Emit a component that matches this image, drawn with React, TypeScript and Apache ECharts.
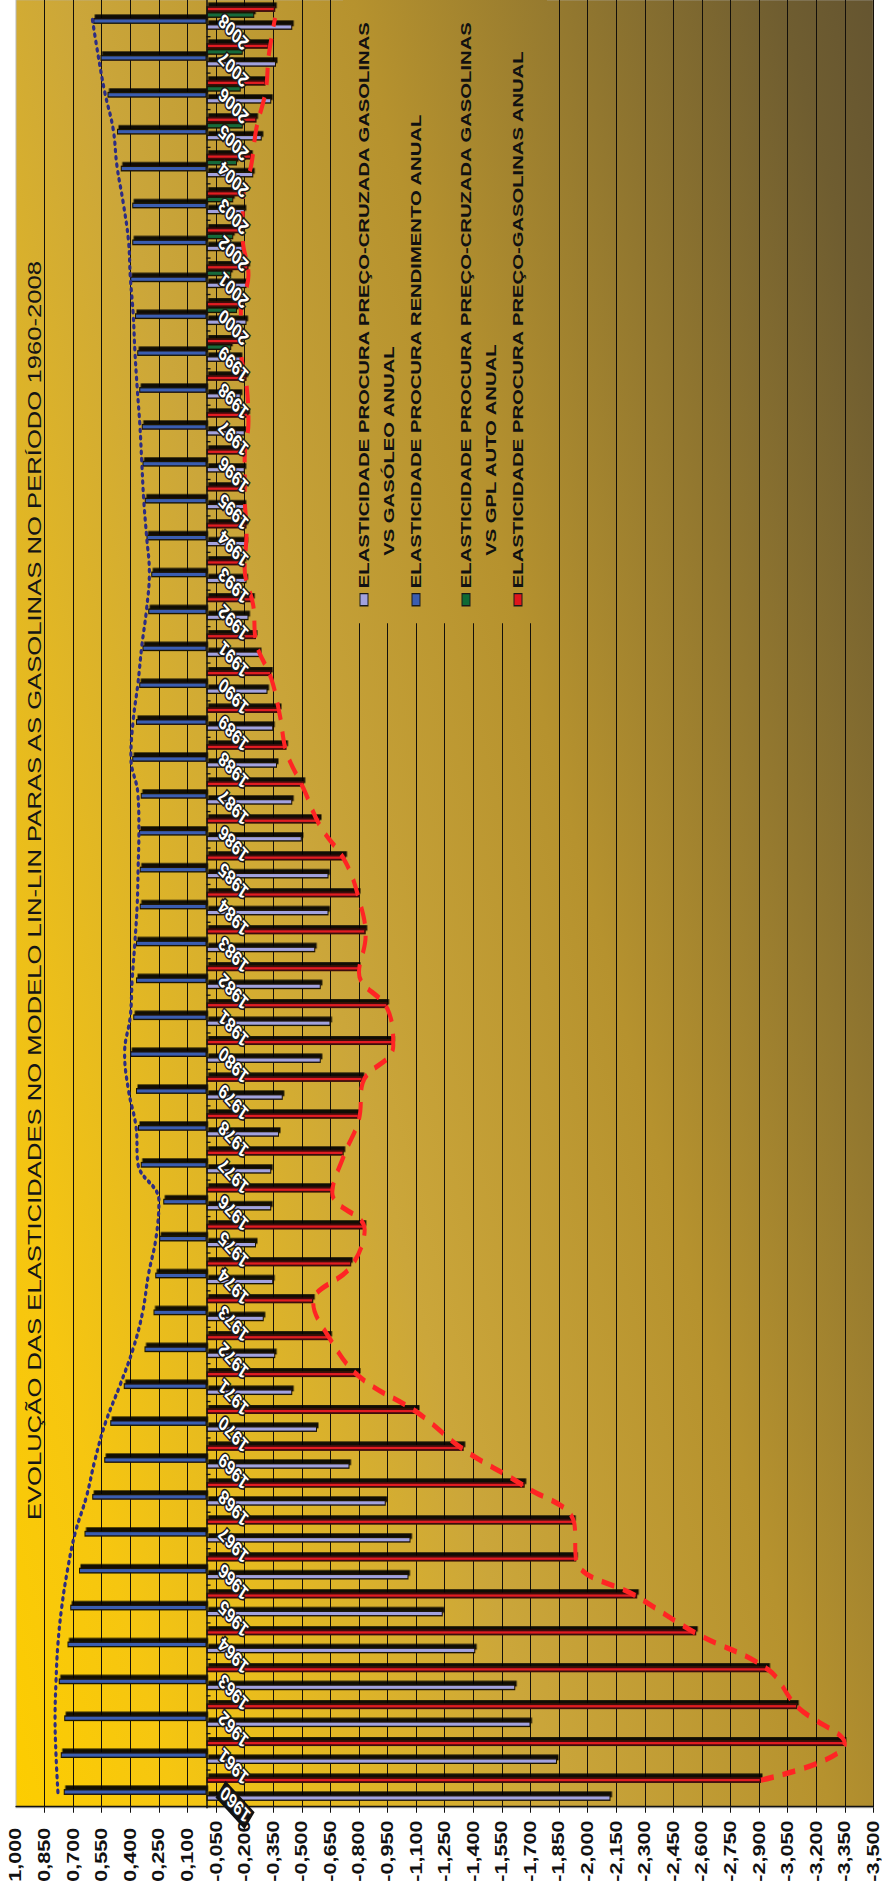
import React, { useEffect, useRef } from 'react';
import * as echarts from 'echarts';

// Years on the category axis
const YEARS = [
  '1960', '1961', '1962', '1963', '1964', '1965', '1966', '1967', '1968', '1969',
  '1970', '1971', '1972', '1973', '1974', '1975', '1976', '1977', '1978', '1979',
  '1980', '1981', '1982', '1983', '1984', '1985', '1986', '1987', '1988', '1989',
  '1990', '1991', '1992', '1993', '1994', '1995', '1996', '1997', '1998', '1999',
  '2000', '2001', '2002', '2003', '2004', '2005', '2006', '2007', '2008',
];

// Value axis ticks (labels) from 1,000 down to -3,500
const VALUE_TICKS = [
  1.0, 0.85, 0.7, 0.55, 0.4, 0.25, 0.1, -0.05, -0.2, -0.35, -0.5, -0.65, -0.8, -0.95, -1.1,
  -1.25, -1.4, -1.55, -1.7, -1.85, -2.0, -2.15, -2.3, -2.45, -2.6, -2.75, -2.9, -3.05, -3.2,
  -3.35, -3.5,
];

// Cross-price elasticity gasoline vs diesel
const GASOLEO = [
  -2.12, -1.84, -1.70, -1.62, -1.41, -1.24, -1.06, -1.07, -0.94, -0.75,
  -0.58, -0.45, -0.36, -0.30, -0.35, -0.26, -0.34, -0.34, -0.38, -0.40,
  -0.60, -0.65, -0.60, -0.57, -0.64, -0.64, -0.50, -0.45, -0.37, -0.35,
  -0.32, -0.28, -0.22, -0.21, -0.21, -0.20, -0.20, -0.20, -0.18, -0.18,
  -0.21, -0.21, -0.19, -0.20, -0.245, -0.29, -0.34, -0.365, -0.45,
];

// Income elasticity
const RENDIMENTO = [
  0.75, 0.765, 0.747, 0.775, 0.73, 0.715, 0.67, 0.64, 0.60, 0.537,
  0.505, 0.434, 0.325, 0.278, 0.269, 0.248, 0.227, 0.345, 0.36, 0.37,
  0.40, 0.385, 0.37, 0.37, 0.35, 0.35, 0.355, 0.345, 0.39, 0.37,
  0.353, 0.336, 0.306, 0.29, 0.315, 0.324, 0.336, 0.34, 0.353, 0.364,
  0.376, 0.40, 0.39, 0.39, 0.45, 0.47, 0.52, 0.556, 0.595,
];

// Cross-price elasticity gasoline vs LPG (only from 1999)
const GPL = [
  null, null, null, null, null, null, null, null, null, null,
  null, null, null, null, null, null, null, null, null, null,
  null, null, null, null, null, null, null, null, null, null,
  null, null, null, null, null, null, null, null, null, -0.13,
  -0.16, -0.13, -0.14, -0.14, -0.16, -0.19, -0.18, -0.19, -0.25,
];

// Own-price elasticity of gasoline
const PRECO = [
  -2.91, -3.35, -3.10, -2.95, -2.57, -2.26, -1.94, -1.93, -1.67, -1.35,
  -1.11, -0.80, -0.65, -0.56, -0.76, -0.83, -0.66, -0.72, -0.80, -0.82,
  -0.98, -0.95, -0.80, -0.835, -0.80, -0.73, -0.595, -0.51, -0.42, -0.385,
  -0.34, -0.26, -0.245, -0.20, -0.21, -0.20, -0.20, -0.22, -0.21, -0.18,
  -0.18, -0.22, -0.19, -0.19, -0.235, -0.262, -0.31, -0.327, -0.36,
];

// Smoothed trend of the income elasticity (dotted curve)
const RENDIMENTO_TREND = [
  0.78, 0.79, 0.795, 0.79, 0.78, 0.76, 0.73, 0.69, 0.63, 0.585,
  0.53, 0.455, 0.385, 0.335, 0.305, 0.265, 0.25, 0.36, 0.37, 0.41,
  0.43, 0.40, 0.39, 0.376, 0.364, 0.359, 0.355, 0.36, 0.397, 0.385,
  0.36, 0.34, 0.315, 0.30, 0.315, 0.33, 0.34, 0.35, 0.364, 0.376,
  0.385, 0.40, 0.41, 0.437, 0.47, 0.49, 0.534, 0.569, 0.60,
];

const SERIES_NAMES = [
  'ELASTICIDADE PROCURA PREÇO-CRUZADA GASOLINAS VS GASÓLEO ANUAL',
  'ELASTICIDADE PROCURA RENDIMENTO ANUAL',
  'ELASTICIDADE PROCURA PREÇO-CRUZADA GASOLINAS VS GPL AUTO ANUAL',
  'ELASTICIDADE PROCURA PREÇO-GASOLINAS ANUAL',
];

const TITLE = 'EVOLUÇÃO DAS ELASTICIDADES NO MODELO LIN-LIN PARAS AS GASOLINAS NO PERÍODO 1960-2008';

// The chart is laid out in landscape and turned a quarter turn on the page,
// with the long side stretched by STRETCH.
const PAGE_W = 882;
const PAGE_H = 1899;
const STRETCH = 1.35;
const CHART_W = Math.round(PAGE_H / STRETCH);
const CHART_H = PAGE_W;

const V_MIN = -3.5;
const V_MAX = 1;
const GRID_LEFT = 67.8;
const GRID_RIGHT = -2;
const GRID_TOP = 16;
const GRID_BOTTOM = 8.6;
// vertical position of the zero line, where the year axis sits
const ZERO_Y = GRID_TOP + ((CHART_H - GRID_TOP - GRID_BOTTOM) * V_MAX) / (V_MAX - V_MIN);
const BAR_W = 4.3;
const BAR_GAP = '3%';
const RED_SHIFT = 6.67;
const BLUE_SHIFT = -2.22;
const TOP_Z = 30;

const FONT = '"Liberation Sans", Arial, Helvetica, sans-serif';

const COLORS = {
  gasoleo: '#a2a2de',
  rendimento: '#3a5db0',
  gpl: '#126b3b',
  preco: '#e11d24',
};

const plotFill = () =>
  new echarts.graphic.LinearGradient(
    GRID_LEFT,
    GRID_TOP,
    GRID_LEFT + 422.7,
    GRID_TOP + 1185,
    [
      { offset: 0, color: '#fdcd00' },
      { offset: 0.12, color: '#f6c610' },
      { offset: 0.4, color: '#cba63a' },
      { offset: 0.61, color: '#b6922e' },
      { offset: 0.93, color: '#6f5d30' },
      { offset: 1, color: '#655530' },
    ],
    true
  );

const barStyle = (color: string, border = '#1a1206', bw = 1) => ({
  color,
  borderColor: border,
  borderWidth: bw,
  shadowColor: 'rgba(0,0,0,0.92)',
  shadowBlur: 0,
  shadowOffsetX: 2.7,
  shadowOffsetY: 1.5,
});

const fmtValue = (v: number) => v.toFixed(3).replace('.', ',');

function buildLegend(): any[] {
  const items = [
    { color: COLORS.gasoleo, lines: ['ELASTICIDADE PROCURA PREÇO-CRUZADA GASOLINAS', 'VS GASÓLEO ANUAL'], y: 364 },
    { color: COLORS.rendimento, lines: ['ELASTICIDADE PROCURA RENDIMENTO ANUAL'], y: 416 },
    { color: '#0f6a35', lines: ['ELASTICIDADE PROCURA PREÇO-CRUZADA GASOLINAS', 'VS GPL AUTO ANUAL'], y: 466 },
    { color: '#e0161c', lines: ['ELASTICIDADE PROCURA PREÇO-GASOLINAS ANUAL'], y: 518 },
  ];
  // legend box hides the grid lines behind it
  const elements: any[] = [
    {
      type: 'rect',
      z: TOP_Z,
      shape: { x: 945, y: 343, width: 500, height: 204 },
      style: { fill: plotFill() },
      silent: true,
    },
  ];
  items.forEach((it) => {
    elements.push({
      type: 'rect',
      z: TOP_Z + 1,
      shape: { x: 958, y: it.y - 4, width: 9, height: 8 },
      style: { fill: it.color, stroke: '#1a1a1a', lineWidth: 1 },
    });
    it.lines.forEach((line, i) => {
      elements.push({
        type: 'text',
        z: TOP_Z + 1,
        x: i === 0 ? 971 : 995,
        y: it.y + i * 25,
        style: {
          text: line,
          fill: '#111',
          fontFamily: FONT,
          fontWeight: 'bold',
          fontSize: 15,
          align: 'left',
          verticalAlign: 'middle',
        },
      });
    });
  });
  return elements;
}

function buildOption(): any {
  const hiddenX = (gridIndex: number) => ({
    type: 'category', gridIndex, data: YEARS, show: false, boundaryGap: true,
  });
  const hiddenY = (gridIndex: number) => ({
    type: 'value', gridIndex, min: V_MIN, max: V_MAX, show: false,
  });
  const bar = (i: number, data: (number | null)[], style: any) => ({
    name: SERIES_NAMES[i], type: 'bar', data, barWidth: BAR_W, barGap: BAR_GAP, itemStyle: style,
  });
  return {
    animation: false,
    backgroundColor: '#ffffff',
    textStyle: { fontFamily: FONT },
    grid: [
      {
        left: GRID_LEFT, right: GRID_RIGHT, top: GRID_TOP, bottom: GRID_BOTTOM,
        show: true, backgroundColor: plotFill(), borderColor: '#b9b9b9', borderWidth: 1,
      },
      { left: GRID_LEFT + RED_SHIFT, right: GRID_RIGHT - RED_SHIFT, top: GRID_TOP, bottom: GRID_BOTTOM },
      { left: GRID_LEFT + BLUE_SHIFT, right: GRID_RIGHT - BLUE_SHIFT, top: GRID_TOP, bottom: GRID_BOTTOM },
      // upper band of the plot, ending at the zero line: carries the year axis
      { left: GRID_LEFT, right: GRID_RIGHT, top: GRID_TOP, bottom: CHART_H - ZERO_Y },
    ],
    xAxis: [
      hiddenX(0),
      hiddenX(1),
      hiddenX(2),
      {
        type: 'category',
        gridIndex: 3,
        data: YEARS,
        position: 'bottom',
        z: 10,
        axisLine: { show: true, onZero: false, lineStyle: { color: '#111', width: 1.5 } },
        axisTick: { show: true, length: 4, lineStyle: { color: '#111', width: 1 } },
        axisLabel: {
          interval: 0,
          rotate: 51,
          margin: 14,
          color: '#ffffff',
          fontFamily: FONT,
          fontWeight: 'bold',
          fontSize: 15,
          textBorderColor: '#1b1b1b',
          textBorderWidth: 2.5,
          formatter: (v: string, i: number) => (i === 0 ? `{hl|${v}}` : v),
          rich: {
            hl: {
              color: '#ffffff',
              backgroundColor: '#111111',
              fontFamily: FONT,
              fontWeight: 'bold',
              fontSize: 15,
              padding: [1, 2, 0, 2],
            },
          },
        },
        splitLine: { show: false },
      },
    ],
    yAxis: [
      {
        type: 'value',
        gridIndex: 0,
        min: V_MIN,
        max: V_MAX,
        axisLine: { show: true, lineStyle: { color: '#111', width: 1.2 } },
        axisTick: {
          show: true,
          length: 4,
          customValues: VALUE_TICKS.filter((v) => v < V_MAX),
          lineStyle: { color: '#111' },
        },
        axisLabel: {
          customValues: VALUE_TICKS,
          formatter: (v: number) => fmtValue(v),
          align: 'left',
          margin: 55,
          color: '#111',
          fontFamily: FONT,
          fontWeight: 'bold',
          fontSize: 16,
        },
        splitLine: { show: true, lineStyle: { color: '#14100a', width: 1 } },
      },
      hiddenY(1),
      hiddenY(2),
      { type: 'value', gridIndex: 3, min: 0, max: V_MAX, show: false },
    ],
    graphic: [
      {
        type: 'text',
        z: TOP_Z,
        x: 747,
        y: 35,
        style: {
          text: TITLE,
          fill: '#151515',
          fontFamily: FONT,
          fontSize: 19,
          align: 'center',
          verticalAlign: 'middle',
        },
      },
      ...buildLegend(),
    ],
    series: [
      bar(0, GASOLEO, barStyle(COLORS.gasoleo)),
      bar(1, RENDIMENTO, barStyle(COLORS.rendimento)),
      bar(2, GPL, barStyle(COLORS.gpl)),
      bar(3, PRECO, barStyle(COLORS.preco, '#3a0d08', 1.3)),
      {
        name: 'TENDÊNCIA PREÇO', type: 'line', xAxisIndex: 1, yAxisIndex: 1, data: PRECO,
        smooth: 0.4, symbol: 'none', z: 6, silent: true,
        lineStyle: { color: '#ff2424', width: 4, type: [13, 9] },
      },
      {
        name: 'TENDÊNCIA RENDIMENTO', type: 'line', xAxisIndex: 2, yAxisIndex: 2, data: RENDIMENTO_TREND,
        smooth: 0.4, symbol: 'none', z: 6, silent: true,
        lineStyle: { color: '#2c2c84', width: 3.2, type: [1, 4.5], cap: 'round' },
      },
    ],
  };
}

export default function App() {
  const ref = useRef<HTMLDivElement>(null);
  useEffect(() => {
    if (!ref.current) return;
    const chart = echarts.init(ref.current, null, { renderer: 'svg' });
    chart.setOption(buildOption());
    return () => chart.dispose();
  }, []);
  return (
    <div
      style={{
        position: 'absolute', left: 0, top: 0, width: PAGE_W, height: PAGE_H,
        overflow: 'hidden', background: '#ffffff',
      }}
    >
      <div
        ref={ref}
        style={{
          position: 'absolute', left: 0, top: 0, width: CHART_W, height: CHART_H,
          transformOrigin: '0 0',
          transform: `translate(0px, ${PAGE_H}px) rotate(-90deg) scaleX(${STRETCH})`,
        }}
      />
    </div>
  );
}
